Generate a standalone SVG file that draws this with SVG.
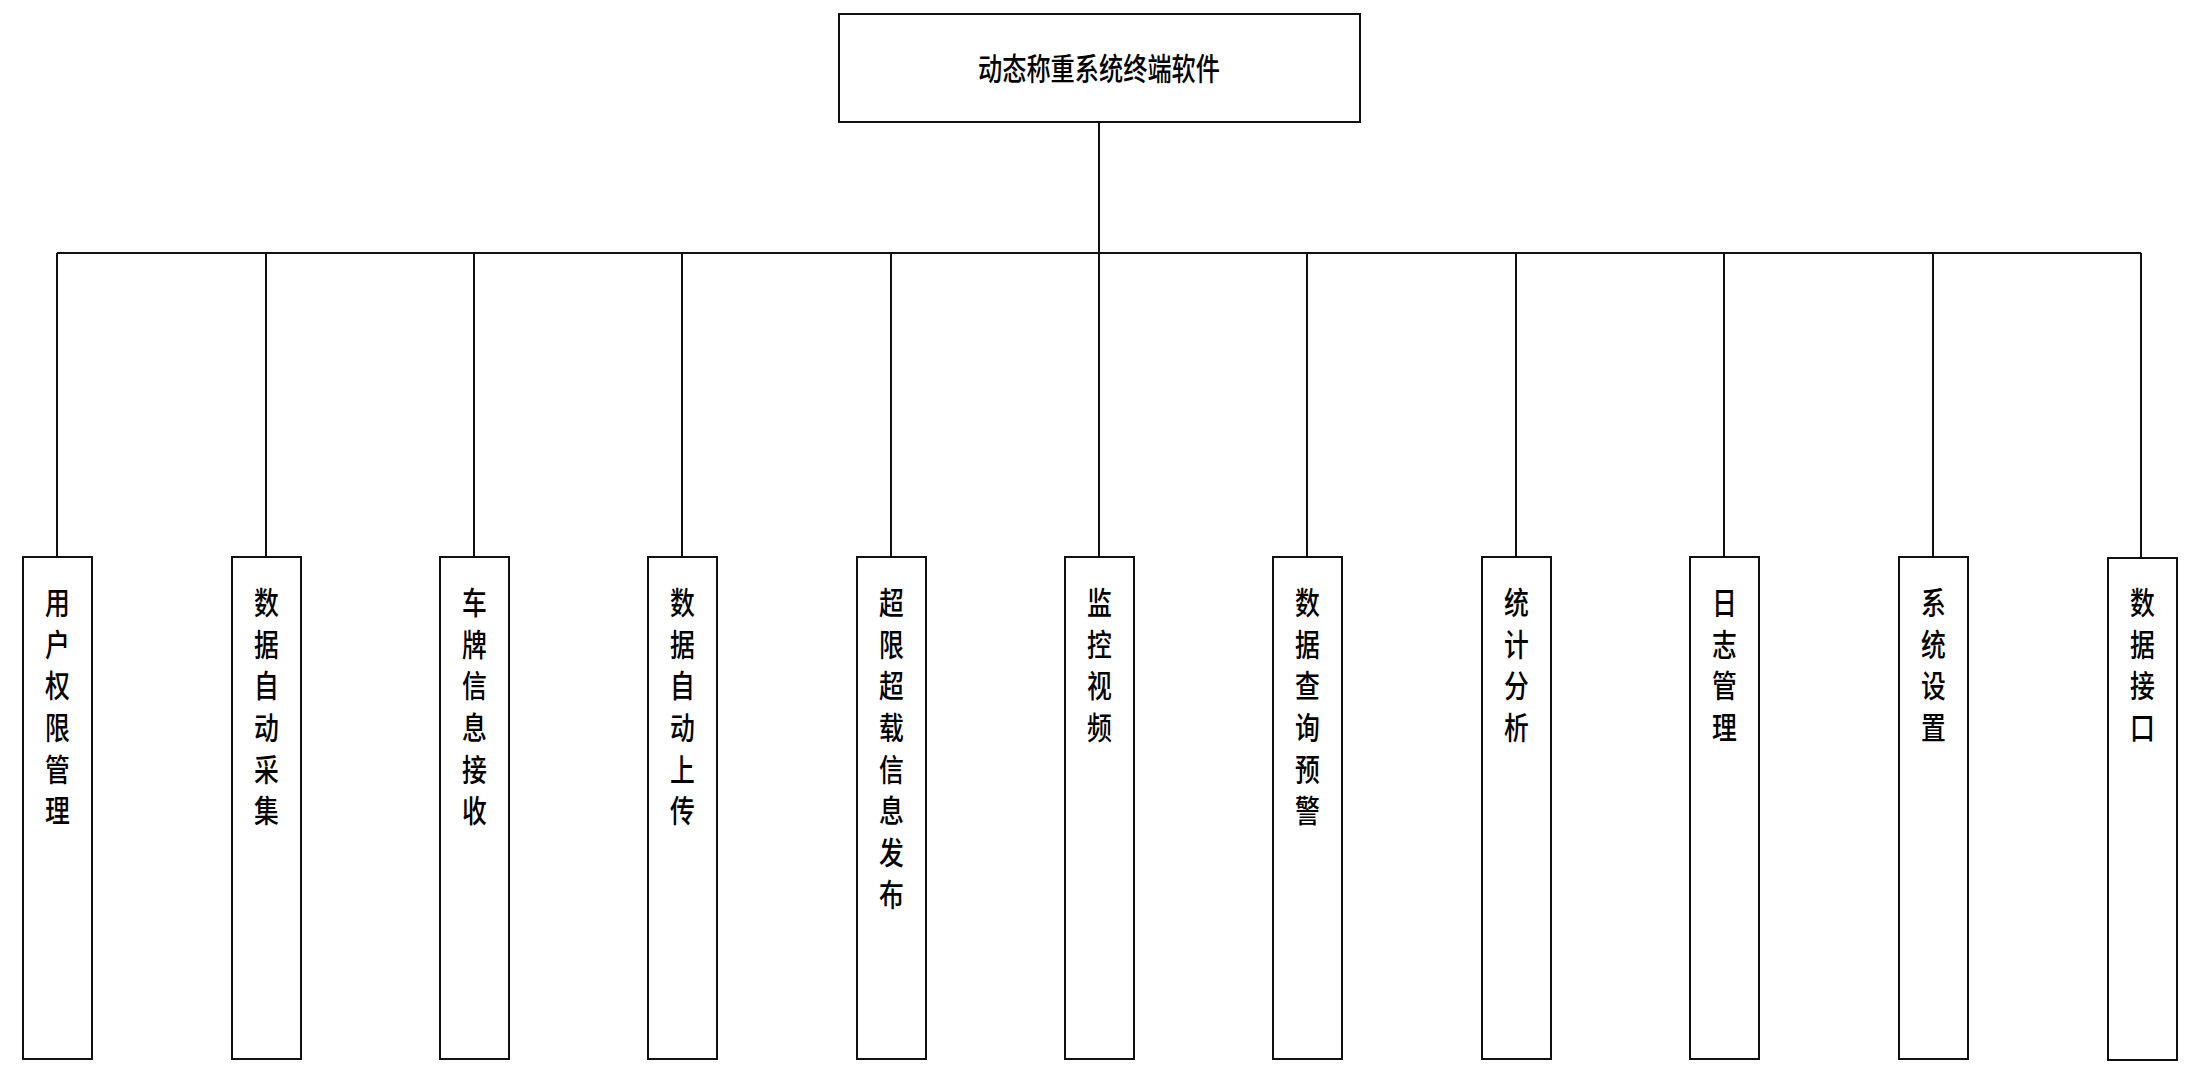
<svg xmlns="http://www.w3.org/2000/svg" width="2193" height="1068" viewBox="0 0 2193 1068">
<style>
.box{fill:#fff;stroke:#111;stroke-width:2}
.ln{fill:none;stroke:#111;stroke-width:2}
.t{font-family:"Noto Sans CJK SC","Liberation Sans",sans-serif;font-size:31px;font-weight:500;fill:#000;text-anchor:middle}
</style>
<rect width="2193" height="1068" fill="#fff"/>
<g id="connectors">
<path class="ln" d="M1099 122V253M57 253H2141M57 253V557M266 253V557M474 253V557M682 253V557M891 253V557M1099 253V557M1307 253V557M1516 253V557M1724 253V557M1933 253V557M2141 253V557"/>
</g>
<g id="root">
<rect class="box" x="839" y="14" width="521" height="108"/>
<text class="t" x="1099" y="80" textLength="242" lengthAdjust="spacingAndGlyphs">动态称重系统终端软件</text>
</g>
<g id="n1"><rect class="box" x="23" y="557" width="69" height="502"/>
<text class="t" transform="translate(57.5,0) scale(0.8,1)"><tspan x="0" y="614">用</tspan><tspan x="0" dy="41.7">户</tspan><tspan x="0" dy="41.7">权</tspan><tspan x="0" dy="41.7">限</tspan><tspan x="0" dy="41.7">管</tspan><tspan x="0" dy="41.7">理</tspan></text></g>
<g id="n2"><rect class="box" x="232" y="557" width="69" height="502"/>
<text class="t" transform="translate(266.5,0) scale(0.8,1)"><tspan x="0" y="614">数</tspan><tspan x="0" dy="41.7">据</tspan><tspan x="0" dy="41.7">自</tspan><tspan x="0" dy="41.7">动</tspan><tspan x="0" dy="41.7">采</tspan><tspan x="0" dy="41.7">集</tspan></text></g>
<g id="n3"><rect class="box" x="440" y="557" width="69" height="502"/>
<text class="t" transform="translate(474.5,0) scale(0.8,1)"><tspan x="0" y="614">车</tspan><tspan x="0" dy="41.7">牌</tspan><tspan x="0" dy="41.7">信</tspan><tspan x="0" dy="41.7">息</tspan><tspan x="0" dy="41.7">接</tspan><tspan x="0" dy="41.7">收</tspan></text></g>
<g id="n4"><rect class="box" x="648" y="557" width="69" height="502"/>
<text class="t" transform="translate(682.5,0) scale(0.8,1)"><tspan x="0" y="614">数</tspan><tspan x="0" dy="41.7">据</tspan><tspan x="0" dy="41.7">自</tspan><tspan x="0" dy="41.7">动</tspan><tspan x="0" dy="41.7">上</tspan><tspan x="0" dy="41.7">传</tspan></text></g>
<g id="n5"><rect class="box" x="857" y="557" width="69" height="502"/>
<text class="t" transform="translate(891.5,0) scale(0.8,1)"><tspan x="0" y="614">超</tspan><tspan x="0" dy="41.7">限</tspan><tspan x="0" dy="41.7">超</tspan><tspan x="0" dy="41.7">载</tspan><tspan x="0" dy="41.7">信</tspan><tspan x="0" dy="41.7">息</tspan><tspan x="0" dy="41.7">发</tspan><tspan x="0" dy="41.7">布</tspan></text></g>
<g id="n6"><rect class="box" x="1065" y="557" width="69" height="502"/>
<text class="t" transform="translate(1099.5,0) scale(0.8,1)"><tspan x="0" y="614">监</tspan><tspan x="0" dy="41.7">控</tspan><tspan x="0" dy="41.7">视</tspan><tspan x="0" dy="41.7">频</tspan></text></g>
<g id="n7"><rect class="box" x="1273" y="557" width="69" height="502"/>
<text class="t" transform="translate(1307.5,0) scale(0.8,1)"><tspan x="0" y="614">数</tspan><tspan x="0" dy="41.7">据</tspan><tspan x="0" dy="41.7">查</tspan><tspan x="0" dy="41.7">询</tspan><tspan x="0" dy="41.7">预</tspan><tspan x="0" dy="41.7">警</tspan></text></g>
<g id="n8"><rect class="box" x="1482" y="557" width="69" height="502"/>
<text class="t" transform="translate(1516.5,0) scale(0.8,1)"><tspan x="0" y="614">统</tspan><tspan x="0" dy="41.7">计</tspan><tspan x="0" dy="41.7">分</tspan><tspan x="0" dy="41.7">析</tspan></text></g>
<g id="n9"><rect class="box" x="1690" y="557" width="69" height="502"/>
<text class="t" transform="translate(1724.5,0) scale(0.8,1)"><tspan x="0" y="614">日</tspan><tspan x="0" dy="41.7">志</tspan><tspan x="0" dy="41.7">管</tspan><tspan x="0" dy="41.7">理</tspan></text></g>
<g id="n10"><rect class="box" x="1899" y="557" width="69" height="502"/>
<text class="t" transform="translate(1933.5,0) scale(0.8,1)"><tspan x="0" y="614">系</tspan><tspan x="0" dy="41.7">统</tspan><tspan x="0" dy="41.7">设</tspan><tspan x="0" dy="41.7">置</tspan></text></g>
<g id="n11"><rect class="box" x="2108" y="558" width="69" height="502"/>
<text class="t" transform="translate(2142.5,0) scale(0.8,1)"><tspan x="0" y="614">数</tspan><tspan x="0" dy="41.7">据</tspan><tspan x="0" dy="41.7">接</tspan><tspan x="0" dy="41.7">口</tspan></text></g>
</svg>
